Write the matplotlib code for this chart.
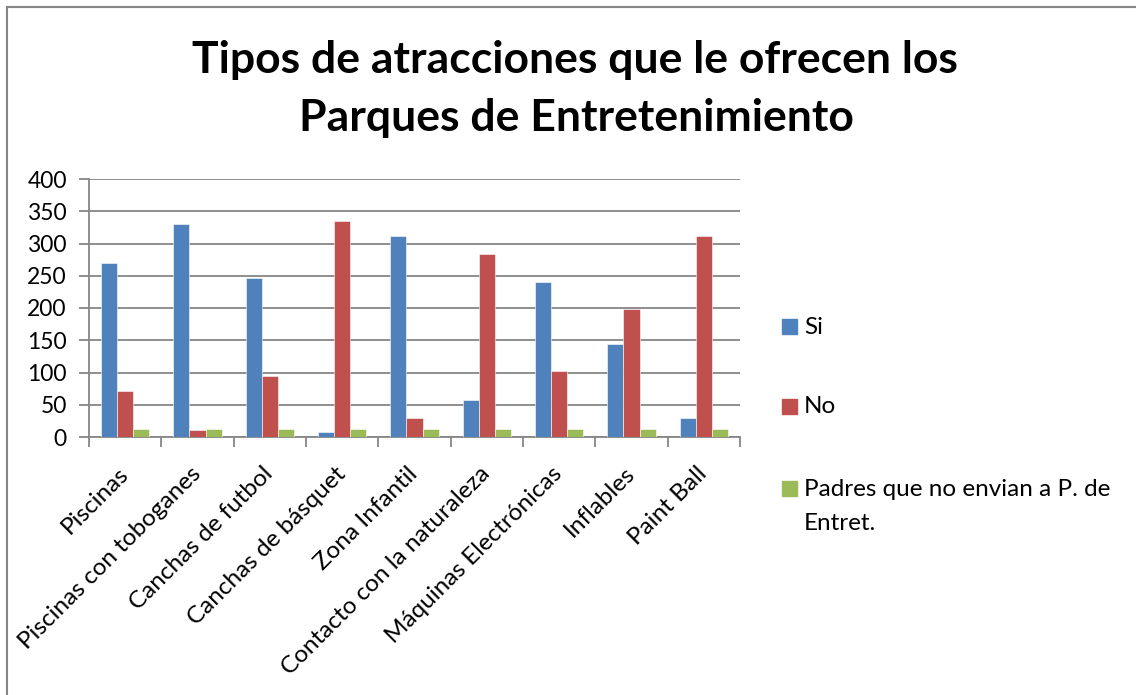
import numpy as np
import matplotlib.pyplot as plt
from matplotlib.lines import Line2D
from matplotlib.patches import Rectangle

categorias = ['Piscinas', 'Piscinas con toboganes', 'Canchas de futbol',
              'Canchas de básquet', 'Zona Infantil', 'Contacto con la naturaleza',
              'Máquinas Electrónicas', 'Inflables', 'Paint Ball']
si = [269, 331, 247, 7, 311, 58, 240, 144, 30]
no = [72, 11, 95, 335, 30, 284, 102, 198, 311]
padres = [13, 13, 13, 13, 13, 13, 13, 13, 13]
series = ['Si', 'No', 'Padres que no envian a P. de\nEntret.']
colores = ['#4F81BD', '#C0504D', '#9BBB59']
yticks = [0, 50, 100, 150, 200, 250, 300, 350, 400]

plt.rcParams['font.family'] = ['Lato', 'DejaVu Sans']
gris = '#868686'

fig = plt.figure(figsize=(11.36, 6.95), dpi=100)
ax = fig.add_axes([89 / 1136, 1 - 437 / 695, 651 / 1136, 258 / 695])

x = np.arange(len(categorias))
w = 1 / 4.5
for i, vals in enumerate([si, no, padres]):
    ax.bar(x + (i - 1) * w, vals, width=w, color=colores[i],
           edgecolor='white', linewidth=0.4, zorder=3)

ax.set_xlim(-0.5, len(categorias) - 0.5)
ax.set_ylim(0, 400)
ax.set_yticks(yticks)
ax.tick_params(axis='y', labelsize=16.5, length=7, color=gris, width=1.3, pad=9)
ax.yaxis.grid(True, color=gris, linewidth=1.3, zorder=0)

ax.set_xticks(x)
ax.set_xticklabels(categorias, rotation=45, ha='right', va='center',
                   rotation_mode='anchor', fontsize=17.5)
ax.tick_params(axis='x', length=0, pad=24)
ax.set_xticks(np.arange(-0.5, len(categorias)), minor=True)
ax.tick_params(axis='x', which='minor', length=7, color=gris, width=1.3)

for s in ['top', 'right']:
    ax.spines[s].set_visible(False)
for s in ['left', 'bottom']:
    ax.spines[s].set_color(gris)
    ax.spines[s].set_linewidth(1.3)

fig.text(575 / 1136, 1 - 60 / 695, 'Tipos de atracciones que le ofrecen los',
         ha='center', va='center', fontsize=32, fontweight='bold')
fig.text(576 / 1136, 1 - 118 / 695, 'Parques de Entretenimiento',
         ha='center', va='center', fontsize=32, fontweight='bold')

# leyenda
ys = [327, 407, 489]
for c, lab, yy in zip(colores, series, ys):
    fig.add_artist(Rectangle((782 / 1136, 1 - (yy + 7) / 695), 15 / 1136, 15 / 695,
                             color=c, transform=fig.transFigure))
    for k, linea in enumerate(lab.split('\n')):
        fig.text(804 / 1136, 1 - (yy + k * 34) / 695, linea, ha='left',
                 va='center', fontsize=17.5)

# borde
fig.add_artist(Line2D([7 / 1136, 7 / 1136], [0, 1 - 7 / 695], color=gris, lw=1.5))
fig.add_artist(Line2D([7 / 1136, 1], [1 - 7 / 695, 1 - 7 / 695], color=gris, lw=1.5))

fig.savefig('out.png', dpi=100)
